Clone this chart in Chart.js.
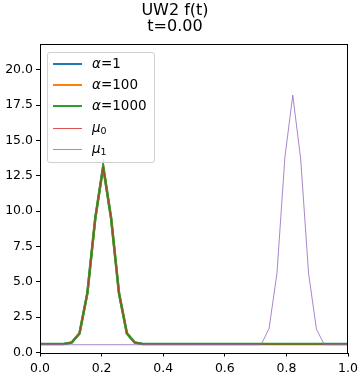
<!DOCTYPE html>
<html>
<head>
<meta charset="utf-8">
<script src="https://cdn.jsdelivr.net/npm/chart.js@4/dist/chart.umd.min.js"></script>
<style>
html,body{margin:0;padding:0;background:#fff;}
#wrap{position:relative;width:363px;height:381px;}
#legend{position:absolute;left:47px;top:52px;width:108px;height:111px;border:1px solid #d0d0d0;border-radius:3px;background:rgba(255,255,255,0.8);font-family:"DejaVu Sans";font-size:13.5px;color:#000;box-sizing:border-box;}
.row{position:absolute;left:0;height:20px;width:100%;}
.sample{position:absolute;left:5px;width:29px;}
.lab{position:absolute;left:44px;top:50%;transform:translateY(-50%);white-space:nowrap;line-height:1;}
.lab sub{font-size:0.7em;vertical-align:-0.25em;}
</style>
</head>
<body>
<div id="wrap">
<canvas id="c" width="363" height="381"></canvas>
<div id="legend"></div>
</div>
<script>
// grid positions
const xs = [0,0.0256,0.0513,0.0769,0.1026,0.1282,0.1538,0.1795,0.2051,0.2308,
0.2564,0.2821,0.3077,0.3333,0.3590,0.3846,0.4103,0.4359,0.4615,0.4872,
0.5128,0.5385,0.5641,0.5897,0.6154,0.6410,0.6667,0.6923,0.7179,0.7436,
0.7692,0.7949,0.8205,0.8462,0.8718,0.8974,0.9231,0.9487,0.9744,1];

const alpha1 = [0.6,0.6,0.6,0.6,0.7,1.35,4.2,9.5,13.15,9.5,4.2,1.35,0.7,0.6,0.6,0.6,0.6,0.6,0.6,0.6,
0.6,0.6,0.6,0.6,0.6,0.6,0.6,0.6,0.6,0.6,0.6,0.6,0.6,0.6,0.6,0.6,0.6,0.6,0.6,0.6];
const alpha100 = [0.6,0.6,0.6,0.6,0.7,1.35,4.2,9.5,13.15,9.5,4.2,1.35,0.7,0.6,0.6,0.6,0.6,0.6,0.6,0.6,
0.6,0.6,0.6,0.6,0.6,0.6,0.6,0.6,0.6,0.6,0.6,0.6,0.6,0.6,0.6,0.6,0.6,0.6,0.6,0.6];
const alpha1000 = [0.6,0.6,0.6,0.6,0.7,1.35,4.2,9.5,13.15,9.5,4.2,1.35,0.7,0.6,0.6,0.6,0.6,0.6,0.6,0.6,
0.6,0.6,0.6,0.6,0.6,0.6,0.6,0.6,0.6,0.6,0.6,0.6,0.6,0.6,0.6,0.6,0.6,0.6,0.6,0.6];
const mu0 = [0.6,0.6,0.6,0.6,0.7,1.35,4.2,9.5,13.15,9.5,4.2,1.35,0.7,0.6,0.6,0.6,0.6,0.6,0.6,0.6,
0.6,0.6,0.6,0.6,0.6,0.6,0.6,0.6,0.6,0.6,0.6,0.6,0.6,0.6,0.6,0.6,0.6,0.6,0.6,0.6];
const mu1 = [0.55,0.55,0.55,0.55,0.55,0.55,0.55,0.55,0.55,0.55,0.55,0.55,0.55,0.55,0.55,0.55,0.55,0.55,0.55,0.55,
0.55,0.55,0.55,0.55,0.55,0.55,0.55,0.55,0.55,1.7,5.6,13.8,18.2,13.7,5.6,1.65,0.55,0.55,0.55,0.55];

const xTicks = [0,0.2,0.4,0.6,0.8,1.0];
const yTicks = [0,2.5,5,7.5,10,12.5,15,17.5,20];
const titleLines = ['UW2 f(t)','t=0.00'];
const seriesLabels = ['<i>α</i>=1','<i>α</i>=100','<i>α</i>=1000','<i>μ</i><sub>0</sub>','<i>μ</i><sub>1</sub>'];

const FONT = 'DejaVu Sans';
Chart.defaults.color = '#000';
Chart.defaults.font.family = FONT;

function pts(ys){ return xs.map((x,i)=>({x:x,y:ys[i]})); }
function ds(label, ys, color, w, order){
  return {label:label, data:pts(ys), borderColor:color, backgroundColor:color, borderWidth:w,
    pointRadius:0, fill:false, tension:0, order:order};
}

const frame = {
  id:'frame',
  afterDatasetsDraw(chart){
    const a = chart.chartArea, ctx = chart.ctx;
    ctx.save();
    ctx.strokeStyle = '#000'; ctx.lineWidth = 1;
    const l = Math.round(a.left)+0.5, t = Math.round(a.top)+0.5, r = Math.round(a.right)-0.5, b = Math.round(a.bottom)+0.5;
    ctx.strokeRect(l, t, r-l, b-t);
    ctx.restore();
  }
};

const chart = new Chart(document.getElementById('c'), {
  type:'line',
  data:{datasets:[
    ds('α=1', alpha1, '#1f77b4', 2.2, 5),
    ds('α=100', alpha100, '#ff7f0e', 2.2, 4),
    ds('α=1000', alpha1000, '#2ca02c', 2.6, 3),
    ds('μ0', mu0, '#d62728', 0.8, 2),
    ds('μ1', mu1, '#9467bd', 0.8, 1)
  ]},
  options:{
    responsive:false, animation:false, events:[],
    layout:{padding:{left:0,right:13,top:0,bottom:0}},
    plugins:{
      legend:{display:false}, tooltip:{enabled:false},
      title:{display:true, text:titleLines, color:'#000',
        font:{family:FONT,size:16,weight:'normal',lineHeight:1.05},
        padding:{top:2,bottom:8}}
    },
    scales:{
      x:{type:'linear', min:0, max:1,
        afterBuildTicks(s){ s.ticks = xTicks.map(v=>({value:v})); },
        afterFit(s){ s.height = 28.5; },
        ticks:{font:{family:FONT,size:12.5}, color:'#000', padding:5, maxRotation:0,
          callback:v=>Number(v).toFixed(1)},
        grid:{drawOnChartArea:false, drawTicks:true, tickLength:4, color:'#000'},
        border:{display:false}
      },
      y:{type:'linear', min:0, max:21.85,
        afterBuildTicks(s){ s.ticks = yTicks.map(v=>({value:v})); },
        afterFit(s){ s.width = 40; },
        ticks:{font:{family:FONT,size:12.5}, color:'#000', padding:3,
          callback:v=>Number(v).toFixed(1)},
        grid:{drawOnChartArea:false, drawTicks:true, tickLength:4, color:'#000'},
        border:{display:false}
      }
    }
  },
  plugins:[frame]
});

// legend built from the chart datasets
const lg = document.getElementById('legend');
const rowCenters = [11, 32, 53, 75, 96];
chart.data.datasets.forEach((d,i)=>{
  const r = document.createElement('div'); r.className='row'; r.style.top = (rowCenters[i]-10)+'px';
  const s = document.createElement('div'); s.className='sample';
  const h = d.borderWidth>1 ? 2 : 1;
  s.style.height = h+'px'; s.style.top = (h>1 ? 9 : 10)+'px'; s.style.background = d.borderColor;
  if (h<2) s.style.opacity = '0.8';
  const t = document.createElement('div'); t.className='lab'; t.innerHTML = seriesLabels[i];
  r.appendChild(s); r.appendChild(t); lg.appendChild(r);
});
</script>
</body>
</html>
